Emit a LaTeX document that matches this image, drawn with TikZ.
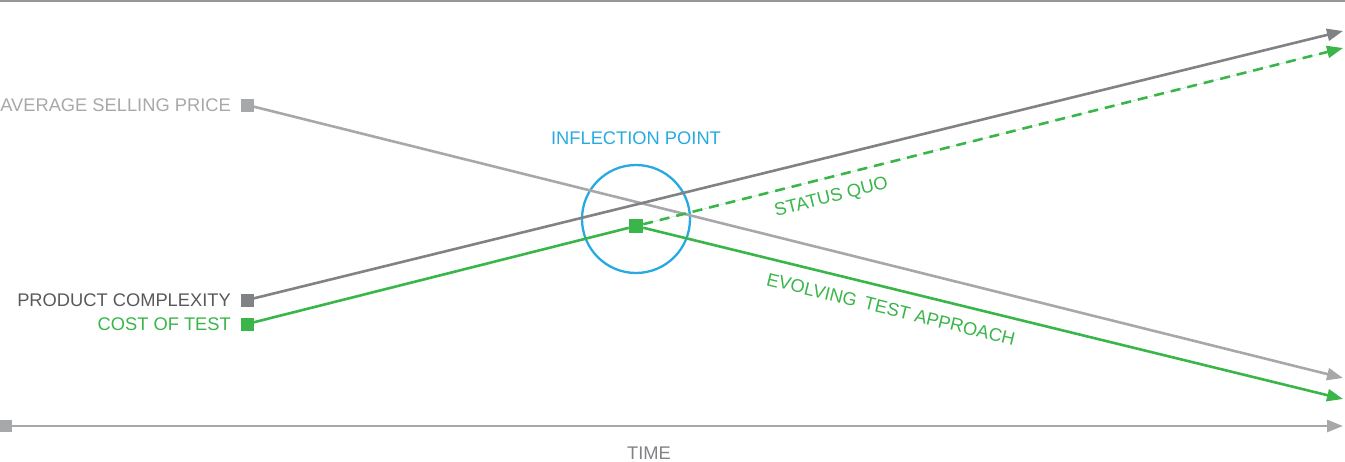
\documentclass[tikz,border=0pt]{standalone}
\usepackage{fontspec}
\setmainfont{Liberation Sans}
\usetikzlibrary{arrows.meta}
\definecolor{aspc}{HTML}{A7A8AA}
\definecolor{pcc}{HTML}{818285}
\definecolor{pctext}{HTML}{58595B}
\definecolor{grn}{HTML}{39B54A}
\definecolor{blu}{HTML}{27AAE1}
\tikzset{
  sq/.style={rectangle, inner sep=0pt, minimum size=13pt, draw=none},
  lbl/.style={inner sep=0pt, text height=13pt, text depth=0pt, font=\fontsize{18.3}{18.3}\selectfont},
  trend/.style={line width=2.6pt, -{Triangle[length=16pt,width=12pt]}},
}
\begin{document}
\begin{tikzpicture}[x=1pt,y=-1pt]
\useasboundingbox (0,0) rectangle (1345,461);
\draw[aspc!90!black, line width=1.5pt] (0,1) -- (1345,1);
% end points
\coordinate (aspend) at (1343,378);
\coordinate (pcend) at (1343,31);
\coordinate (sqend) at (1343,48);
\coordinate (evoend) at (1343,399);
\coordinate (tend) at (1343,426);
% inflection circle
\node[circle, draw=blu, line width=2.3pt, minimum size=108pt, inner sep=0pt] (circ) at (636,219) {};
\node[lbl, text=blu] (iplbl) at (636,138) {INFLECTION POINT};
% squares
\node[sq, fill=aspc] (asp) at (247,105) {};
\node[sq, fill=pcc] (pc) at (247,300) {};
\node[sq, fill=grn] (cot) at (247,324) {};
\node[sq, fill=grn, minimum size=14pt] (ip) at (636,226) {};
\node[sq, fill=aspc, minimum size=12pt] (t0) at (6,426) {};
% labels
\node[lbl, anchor=east, text=aspc] (asplbl) at (231,105) {AVERAGE SELLING PRICE};
\node[lbl, anchor=east, text=pctext] (pclbl) at (231,300) {PRODUCT COMPLEXITY};
\node[lbl, anchor=east, text=grn] (cotlbl) at (231,324) {COST OF TEST};
\node[lbl, text=pcc] (timelbl) at (649,453) {TIME};
\node[lbl, text=grn, rotate=14.1] (sqlbl) at (831,196) {STATUS QUO};
\node[lbl, text=grn, rotate=-13.75] (evolbl) at (891,309) {EVOLVING\, TEST APPROACH};
% lines
\draw[trend, draw=aspc, fill=aspc] (asp) -- (aspend);
\draw[trend, draw=pcc, fill=pcc] (pc) -- (pcend);
\draw[line width=2.6pt, draw=grn] (cot) -- (ip);
\draw[trend, draw=grn, fill=grn] (ip) -- (evoend);
\draw[trend, draw=grn, fill=grn, dash pattern=on 10pt off 7pt] (ip) -- (sqend);
\draw[trend, draw=aspc, fill=aspc] (t0) -- (tend);
\end{tikzpicture}
\end{document}
